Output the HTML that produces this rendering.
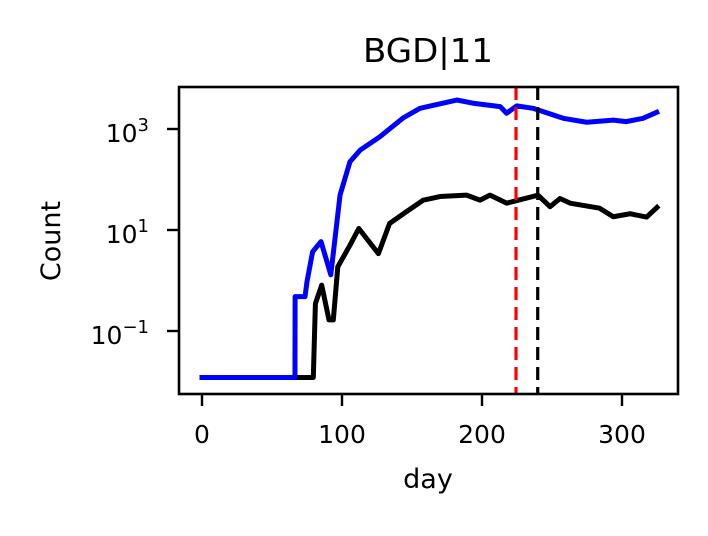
<!DOCTYPE html>
<html><head><meta charset="utf-8"><style>
body{margin:0;background:#fff;}
svg text{font-family:"DejaVu Sans","Liberation Sans",sans-serif;}
</style></head><body>
<svg id="chart" width="708" height="531" viewBox="0 0 708 531" xmlns="http://www.w3.org/2000/svg">
<rect x="0" y="0" width="708" height="531" fill="#fff"/>
<g id="plot"></g>
<text x="428" y="62" font-size="33" text-anchor="middle" textLength="130" lengthAdjust="spacingAndGlyphs">BGD|11</text>
<text x="428" y="488" font-size="27" text-anchor="middle">day</text>
<text x="60" y="241" font-size="27" text-anchor="middle" transform="rotate(-90 60 241)">Count</text>
</svg>
<script>
const blueDays=[0,66.4,66.5,73.6,75,79,85,92,98.6,105.7,112.9,127,143.6,155.7,182,193.6,213,217.6,224.8,236.4,258,274.8,293.8,303,315,324.8];
const blueVals=[0.012,0.012,0.48,0.48,0.95,3.7,5.9,1.3,49,225,380,700,1650,2570,3750,3240,2770,2050,2870,2570,1630,1360,1500,1400,1630,2140];
const blackDays=[0,79.5,81,85.5,90.7,93.8,97,105.7,112,126,134,146,158,170,189,198.6,205.7,217.6,240,248.6,255.7,262.9,284,293.8,305.7,317.6,325];
const blackVals=[0.012,0.012,0.35,0.81,0.166,0.166,1.87,5,10.7,3.4,13.5,23,39,46,49,39,49,34,49,29,42,34,27,18.3,21,18,28];
const vlineDays=[224.3,239.8];
const xTicks=[0,100,200,300];
const yTickExps=[3,1,-1];

const L=179,R=678,T=87,B=394;
const X=d=>202+1.4*d;
const Y=v=>129-50.5*(Math.log10(v)-3);
const NS='http://www.w3.org/2000/svg';
const g=document.getElementById('plot');
function mk(t,a){const e=document.createElementNS(NS,t);for(const k in a)e.setAttribute(k,a[k]);return e;}

function line(days,vals,color,name){
  const p=mk('polyline',{points:days.map((d,i)=>X(d)+','+Y(vals[i])).join(' '),fill:'none',stroke:color,'stroke-width':5,'stroke-linejoin':'round','stroke-linecap':'square'});
  
  
  g.appendChild(p);
}
line(blackDays,blackVals,'#000','series-black');
line(blueDays,blueVals,'#0000ff','series-blue');
const vcol=['#ff0000','#000'];
vlineDays.forEach((d,i)=>{
  const l=mk('line',{x1:X(d),x2:X(d),y1:T,y2:B,stroke:vcol[i],'stroke-width':3.2,'stroke-dasharray':'13,7'});
  
  
  g.appendChild(l);
});
const fr=mk('rect',{x:L,y:T,width:R-L,height:B-T,fill:'none',stroke:'#000','stroke-width':2.6});


g.appendChild(fr);
xTicks.forEach(t=>{
  const l=mk('line',{x1:X(t),x2:X(t),y1:B,y2:B+12,stroke:'#000','stroke-width':2.4});
  
  
  g.appendChild(l);
  const tx=mk('text',{x:X(t),y:B+49,'font-size':25,'text-anchor':'middle'});
  tx.textContent=t;
  
  
  g.appendChild(tx);
});
yTickExps.forEach(e=>{
  const y=Y(Math.pow(10,e));
  const l=mk('line',{x1:L-12,x2:L,y1:y,y2:y,stroke:'#000','stroke-width':2.4});
  
  
  g.appendChild(l);
  const tx=mk('text',{x:L-30,y:y+13,'font-size':25,'text-anchor':'end'});
  tx.innerHTML='10<tspan dy="-11" font-size="18">'+(e<0?'\u2212'+(-e):e)+'</tspan>';
  
  
  g.appendChild(tx);
});
</script>
</body></html>
